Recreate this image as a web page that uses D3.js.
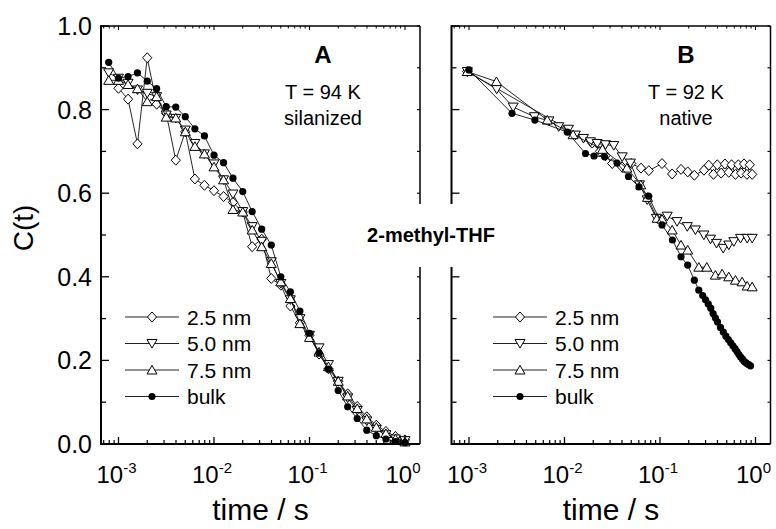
<!DOCTYPE html>
<html><head><meta charset="utf-8">
<script src="https://cdn.jsdelivr.net/npm/d3@7"></script>
<style>
body{margin:0;background:#fff}
svg{display:block}
text{font-family:"Liberation Sans",Arial,Helvetica,sans-serif;fill:#000}
</style>
</head><body>
<svg id="chart" width="776" height="529"></svg>
<script>
// ---------------- DATA ----------------
const seriesNames = ["2.5 nm", "5.0 nm", "7.5 nm", "bulk"];
const seriesSymbols = ["diamond", "down", "up", "circle"];
const yTickValues = [0, 0.2, 0.4, 0.6, 0.8, 1.0];
const yTickLabels = ["0.0", "0.2", "0.4", "0.6", "0.8", "1.0"];
const xTickExponents = ["-3", "-2", "-1", "0"];
const xTickValues = [0.001, 0.01, 0.1, 1];

// Panel A (silanized, T = 94 K): common time grid (s)
const timeA = [0.00079, 0.001, 0.00126, 0.00158, 0.002, 0.00251, 0.00316, 0.00398, 0.00501, 0.00631,
  0.00794, 0.01, 0.0126, 0.0158, 0.02, 0.0251, 0.0316, 0.0398, 0.0501, 0.0631,
  0.0794, 0.1, 0.126, 0.158, 0.2, 0.251, 0.316, 0.398, 0.501, 0.631, 0.794, 1.0];
const a25 = [null, 0.851, 0.825, 0.718, 0.924, 0.813, 0.791, 0.679, 0.747, 0.634,
  0.619, 0.606, 0.592, 0.578, 0.555, 0.472, 0.49, 0.396, 0.38, 0.33,
  0.29, 0.26, 0.215, 0.18, 0.15, 0.12, 0.09, 0.065, 0.045, 0.03, 0.018, 0.01];
const a50 = [0.888, 0.875, 0.863, 0.847, 0.839, 0.831, 0.787, 0.779, 0.751, 0.719,
  0.694, 0.670, 0.632, 0.598, 0.556, 0.520, 0.485, 0.436, 0.384, 0.345,
  0.30, 0.26, 0.23, 0.19, 0.15, 0.11, 0.08, 0.055, 0.035, 0.022, 0.012, 0.008];
const a75 = [0.87, 0.87, 0.86, 0.85, 0.819, 0.831, 0.782, 0.78, 0.747, 0.712,
  0.694, 0.663, 0.632, 0.561, 0.555, 0.512, 0.472, 0.432, 0.388, 0.348,
  0.288, 0.255, 0.22, 0.185, 0.15, 0.115, 0.085, 0.06, 0.04, 0.025, 0.012, 0.005];
const aBulk = [0.913, 0.875, 0.879, 0.888, 0.868, 0.850, 0.807, 0.806, 0.783, 0.754,
  0.737, 0.691, 0.673, 0.636, 0.604, 0.556, 0.514, 0.476, 0.400, 0.364,
  0.318, 0.265, 0.218, 0.179, 0.128, 0.089, 0.061, 0.033, 0.020, 0.012, 0.006, 0.003];

// Panel B (native, T = 92 K): each series has its own time grid (s)
const timeB25 = [0.00096, 0.0195, 0.0235, 0.0269, 0.0316, 0.04, 0.05, 0.0633, 0.0764, 0.105, 0.134, 0.166, 0.195, 0.229,
  0.289, 0.324, 0.363, 0.398, 0.437, 0.479, 0.525, 0.562, 0.617, 0.661, 0.708, 0.759, 0.813, 0.871, 0.923];
const b25 = [0.891, 0.72, 0.70, 0.69, 0.671, 0.663, 0.671, 0.66, 0.654, 0.671, 0.646, 0.657, 0.651, 0.643,
  0.655, 0.667, 0.645, 0.668, 0.648, 0.670, 0.650, 0.668, 0.645, 0.668, 0.648, 0.670, 0.645, 0.668, 0.645];
const timeB50 = [0.00096, 0.00195, 0.0029, 0.00485, 0.00686, 0.0087, 0.011, 0.013, 0.0158, 0.0187, 0.022, 0.0269, 0.0328,
  0.0402, 0.049, 0.061, 0.0735, 0.0918, 0.119, 0.151, 0.193, 0.235, 0.288, 0.338, 0.391, 0.459, 0.525, 0.593, 0.697, 0.818, 0.923];
const b50 = [0.891, 0.849, 0.806, 0.783, 0.773, 0.759, 0.753, 0.739, 0.731, 0.723, 0.719, 0.716, 0.714,
  0.687, 0.672, 0.620, 0.584, 0.540, 0.545, 0.532, 0.520, 0.512, 0.500, 0.490, 0.480, 0.468, 0.476, 0.484, 0.492, 0.492, 0.492];
const timeB75 = [0.00096, 0.00194, 0.0066, 0.0123, 0.025, 0.045, 0.063, 0.0741, 0.0933, 0.105, 0.134, 0.166, 0.195, 0.255,
  0.309, 0.380, 0.447, 0.525, 0.617, 0.724, 0.818, 0.923];
const b75 = [0.891, 0.867, 0.775, 0.74, 0.705, 0.66, 0.62, 0.59, 0.54, 0.538, 0.512, 0.476, 0.464, 0.423,
  0.423, 0.404, 0.407, 0.40, 0.392, 0.388, 0.378, 0.376];
const timeBBulk = [0.001, 0.00282, 0.0049, 0.0107, 0.0166, 0.0204, 0.0263, 0.0355, 0.0468, 0.0603, 0.0759, 0.105, 0.135,
  0.166, 0.195, 0.229, 0.255, 0.28, 0.30, 0.32, 0.34, 0.36, 0.38, 0.40, 0.43, 0.46, 0.49, 0.52, 0.55, 0.58, 0.61, 0.64,
  0.67, 0.70, 0.73, 0.76, 0.79, 0.82, 0.85, 0.887];
const bBulk = [0.895, 0.791, 0.775, 0.746, 0.695, 0.689, 0.687, 0.672, 0.64, 0.615, 0.593, 0.524, 0.488,
  0.448, 0.428, 0.392, 0.368, 0.355, 0.345, 0.335, 0.325, 0.312, 0.302, 0.292, 0.279, 0.268, 0.258, 0.25, 0.242, 0.235, 0.228, 0.221,
  0.214, 0.208, 0.203, 0.198, 0.195, 0.192, 0.19, 0.187];

// ---------------- LAYOUT ----------------
const svg = d3.select("#chart");
const plotTop = 26, plotBottom = 444;
const panels = [
  { left: 101, right: 420, label: "A", temp: "T = 94 K", surf: "silanized", annX: 323,
    legendX: 125, series: [[timeA, a25], [timeA, a50], [timeA, a75], [timeA, aBulk]], showY: true },
  { left: 451.5, right: 770.5, label: "B", temp: "T = 92 K", surf: "native", annX: 686,
    legendX: 493, series: [[timeB25, b25], [timeB50, b50], [timeB75, b75], [timeBBulk, bBulk]], showY: false }
];
const y = d3.scaleLinear().domain([0, 1]).range([plotBottom, plotTop]);

function symbolPath(kind) {
  if (kind === "diamond") return "M0,-5L4.6,0L0,5L-4.6,0Z";
  if (kind === "down") return "M-5,-4L5,-4L0,4.6Z";
  if (kind === "up") return "M-5,4L5,4L0,-4.6Z";
  return null;
}
function drawMarker(g, kind, cx, cy) {
  if (kind === "circle") {
    g.append("circle").attr("cx", cx).attr("cy", cy).attr("r", 3.6).attr("fill", "#000");
  } else {
    g.append("path").attr("d", symbolPath(kind)).attr("transform", `translate(${cx},${cy})`)
      .attr("fill", "#fff").attr("stroke", "#000").attr("stroke-width", 1);
  }
}

panels.forEach((p, pi) => {
  const x = d3.scaleLog().domain([6.56e-4, 1.436]).range([p.left, p.right]);
  const g = svg.append("g");
  const clipId = "clip" + pi;
  svg.append("clipPath").attr("id", clipId).append("rect")
    .attr("x", p.left - 6).attr("y", plotTop).attr("width", p.right - p.left + 12).attr("height", plotBottom - plotTop + 4);

  // data
  const dg = g.append("g").attr("clip-path", `url(#${clipId})`);
  p.series.forEach(([ts, vs], si) => {
    const pts = ts.map((t, i) => [t, vs[i]]).filter(d => d[1] !== null);
    dg.append("path")
      .attr("d", d3.line().x(d => x(d[0])).y(d => y(d[1]))(pts))
      .attr("fill", "none").attr("stroke", "#111").attr("stroke-width", 0.9);
    pts.forEach(d => drawMarker(dg, seriesSymbols[si], x(d[0]), y(d[1])));
  });

  // bottom axis (ticks inward)
  const minor = [];
  for (let e = -4; e <= 0; e++) for (let m = 2; m <= 9; m++) minor.push(m * Math.pow(10, e));
  const dom = x.domain();
  const minorIn = minor.filter(v => v >= dom[0] && v <= dom[1]);
  const ax = g.append("g");
  xTickValues.forEach(v => {
    ax.append("line").attr("x1", x(v)).attr("x2", x(v)).attr("y1", plotBottom).attr("y2", plotBottom - 7).attr("stroke", "#000").attr("stroke-width", 1.3);
    ax.append("line").attr("x1", x(v)).attr("x2", x(v)).attr("y1", plotTop).attr("y2", plotTop + 4).attr("stroke", "#000").attr("stroke-width", 1.1);
  });
  minorIn.forEach(v => {
    ax.append("line").attr("x1", x(v)).attr("x2", x(v)).attr("y1", plotBottom).attr("y2", plotBottom - 4).attr("stroke", "#000").attr("stroke-width", 1.2);
    ax.append("line").attr("x1", x(v)).attr("x2", x(v)).attr("y1", plotTop).attr("y2", plotTop + 2.5).attr("stroke", "#000").attr("stroke-width", 1);
  });
  // x tick labels
  xTickValues.forEach((v, i) => {
    const t = ax.append("text").attr("x", x(v) - 2).attr("y", 483).attr("text-anchor", "middle").attr("font-size", 24);
    t.append("tspan").text("10");
    t.append("tspan").attr("dy", -10).attr("font-size", 15).text(xTickExponents[i]);
  });

  // y ticks
  const yMinor = [0.1, 0.3, 0.5, 0.7, 0.9];
  yTickValues.forEach(v => {
    ax.append("line").attr("x1", p.left).attr("x2", p.left + 8).attr("y1", y(v)).attr("y2", y(v)).attr("stroke", "#000").attr("stroke-width", 1.3);
    ax.append("line").attr("x1", p.right).attr("x2", p.right - 3).attr("y1", y(v)).attr("y2", y(v)).attr("stroke", "#000").attr("stroke-width", 1.1);
  });
  yMinor.forEach(v => {
    ax.append("line").attr("x1", p.left).attr("x2", p.left + 5).attr("y1", y(v)).attr("y2", y(v)).attr("stroke", "#000").attr("stroke-width", 1.3);
    ax.append("line").attr("x1", p.right).attr("x2", p.right - 3).attr("y1", y(v)).attr("y2", y(v)).attr("stroke", "#000").attr("stroke-width", 1.1);
  });
  if (p.showY) {
    yTickValues.forEach((v, i) => {
      ax.append("text").attr("x", 92).attr("y", y(v)).attr("dy", "0.36em").attr("text-anchor", "end")
        .attr("font-size", 25).text(yTickLabels[i]);
    });
  }

  // frame
  ax.append("line").attr("x1", p.left).attr("x2", p.right).attr("y1", plotTop).attr("y2", plotTop).attr("stroke", "#000").attr("stroke-width", 1.5);
  ax.append("line").attr("x1", p.right).attr("x2", p.right).attr("y1", plotTop).attr("y2", plotBottom).attr("stroke", "#000").attr("stroke-width", 1.5);
  ax.append("line").attr("x1", p.left).attr("x2", p.left).attr("y1", plotTop - 0.75).attr("y2", plotBottom + 1).attr("stroke", "#000").attr("stroke-width", 2);
  ax.append("line").attr("x1", p.left).attr("x2", p.right).attr("y1", plotBottom).attr("y2", plotBottom).attr("stroke", "#000").attr("stroke-width", 2);

  // annotations
  g.append("text").attr("x", p.annX).attr("y", 63).attr("text-anchor", "middle").attr("font-size", 24).attr("font-weight", "bold").text(p.label);
  g.append("text").attr("x", p.annX).attr("y", 99).attr("text-anchor", "middle").attr("font-size", 20).text(p.temp);
  g.append("text").attr("x", p.annX).attr("y", 125).attr("text-anchor", "middle").attr("font-size", 20).text(p.surf);

  // x axis title
  g.append("text").attr("x", (p.left + p.right) / 2).attr("y", 520).attr("text-anchor", "middle").attr("font-size", 30).text("time / s");

  // legend
  const rows = [317, 343.5, 370, 396.5];
  seriesNames.forEach((name, si) => {
    const lg = g.append("g");
    lg.append("line").attr("x1", p.legendX).attr("x2", p.legendX + 54).attr("y1", rows[si]).attr("y2", rows[si]).attr("stroke", "#222").attr("stroke-width", 1);
    drawMarker(lg, seriesSymbols[si], p.legendX + 27, rows[si]);
    lg.append("text").attr("x", p.legendX + 62).attr("y", rows[si]).attr("dy", "0.36em").attr("font-size", 21).text(name);
  });
});

// y axis title
svg.append("text").attr("transform", "translate(33,228) rotate(-90)").attr("text-anchor", "middle").attr("font-size", 28).text("C(t)");

// central label with white gap in the axes
svg.append("rect").attr("x", 414).attr("y", 204).attr("width", 46).attr("height", 63).attr("fill", "#fff");
svg.append("text").attr("x", 431).attr("y", 242).attr("text-anchor", "middle").attr("font-size", 20).attr("font-weight", "bold").text("2-methyl-THF");
</script>
</body></html>
